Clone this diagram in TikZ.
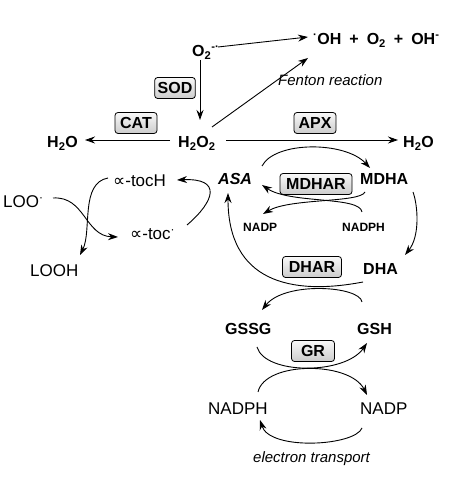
\documentclass[tikz,border=0pt]{standalone}
\usepackage{fontspec}
\setmainfont{Liberation Sans}
\newfontfamily\dejavu{DejaVu Sans}
\usetikzlibrary{arrows.meta}
\begin{document}
\begin{tikzpicture}[x=1pt,y=1pt,
  lbl/.style={anchor=base west, inner sep=0pt, font=\fontsize{16}{18}\selectfont\bfseries},
  reg/.style={anchor=base west, inner sep=0pt, font=\fontsize{17}{19}\selectfont},
  sml/.style={anchor=base west, inner sep=0pt, font=\fontsize{12}{14}\selectfont\bfseries},
  itl/.style={anchor=base west, inner sep=0pt, font=\fontsize{15}{17}\selectfont\itshape},
  enz/.style={draw, rounded corners=3pt, top color=gray!5, bottom color=gray!40, line width=0.8pt,
    font=\fontsize{16}{18}\selectfont\bfseries, minimum height=21pt, inner xsep=3pt, inner ysep=0pt},
  arr/.style={-{Stealth[length=10pt,width=7pt]}, line width=0.9pt},
]
\useasboundingbox (0,0) rectangle (454,486);
% species
\node[lbl] (o2) at (192,429) {O\textsubscript{2}\textsuperscript{-·}};
\node[lbl] (oh) at (313,441) {\textsuperscript{·}OH\hspace{8pt}+\hspace{8pt}O\textsubscript{2}\hspace{8pt}+\hspace{8pt}OH\textsuperscript{-}};
\node[itl] (fenton) at (278,400) {Fenton reaction};
\node[lbl] (h2oL) at (47,338) {H\textsubscript{2}O};
\node[lbl] (h2o2) at (178,338) {H\textsubscript{2}O\textsubscript{2}};
\node[lbl] (h2oR) at (403,338) {H\textsubscript{2}O};
\node[lbl, font=\fontsize{16}{18}\selectfont\bfseries\itshape] (asa) at (218,301) {ASA};
\node[lbl] (mdha) at (360,301) {MDHA};
\node[reg] (toch) at (113,299) {{\dejavu ∝}-tocH};
\node[reg] (loo) at (3,278) {LOO\textsuperscript{·}};
\node[reg] (toc) at (130,246) {{\dejavu ∝}-toc\textsuperscript{·}};
\node[reg] (looh) at (30,209) {LOOH};
\node[sml] (nadps) at (243,254) {NADP};
\node[sml] (nadphs) at (342,254) {NADPH};
\node[lbl] (dha) at (363,211) {DHA};
\node[lbl] (gssg) at (225,151) {GSSG};
\node[lbl] (gsh) at (357,151) {GSH};
\node[reg] (nadphb) at (208,71) {NADPH};
\node[reg] (nadpb) at (360,71) {NADP};
\node[itl] (et) at (253,23) {electron transport};
% enzymes
\node[enz, minimum width=40pt] (sod) at (175,398) {SOD};
\node[enz, minimum width=42pt] (cat) at (136,363) {CAT};
\node[enz, minimum width=42pt] (apx) at (315,363) {APX};
\node[enz, minimum width=72pt] (mdhar) at (316,302) {MDHAR};
\node[enz, minimum width=59pt] (dhar) at (312,219) {DHAR};
\node[enz, minimum width=43pt] (gr) at (313,135) {GR};
% straight arrows
\draw[arr] ([shift={(26,10)}]o2.base west) -- ([shift={(-5,8)}]oh.base west);
\draw[arr] ([shift={(34,21)}]h2o2.base west) -- ([shift={(-5,-13)}]oh.base west);
\draw[arr] ([shift={(8,-3)}]o2.base west) -- ([shift={(22,28)}]h2o2.base west);
\draw[arr] ([shift={(-8,8)}]h2o2.base west) -- ([shift={(38,8)}]h2oL.base west);
\draw[arr] ([shift={(48,8)}]h2o2.base west) -- ([shift={(-5,8)}]h2oR.base west);
% ascorbate cycle
\draw[arr] ([shift={(44,19)}]asa.base west) .. controls +(13,25) and +(-25,27) .. ([shift={(10,17)}]mdha.base west);
\draw[arr] ([shift={(5,-7)}]mdha.base west) .. controls +(-5,-11) and +(27,16) .. ([shift={(20,18)}]nadps.base west);
\draw[arr] ([shift={(20,20)}]nadphs.base west) .. controls +(-2,16) and +(28,-19) .. ([shift={(44,0)}]asa.base west);
\draw[arr] ([shift={(53,-7)}]mdha.base west) .. controls +(5,-14) and +(15,19) .. ([shift={(42,20)}]dha.base west);
\draw[arr] ([shift={(0,-7)}]dha.base west) .. controls +(-73,-14) and +(0,-88) .. ([shift={(10,-8)}]asa.base west);
% glutathione cycle
\draw[arr] ([shift={(5,33)}]gsh.base west) .. controls +(-2,16) and +(23,29) .. ([shift={(37,25)}]gssg.base west);
\draw[arr] ([shift={(32,-12)}]gssg.base west) .. controls +(8,-28) and +(-22,-32) .. ([shift={(10,-8)}]gsh.base west);
\draw[arr] ([shift={(50,23)}]nadphb.base west) .. controls +(7,31) and +(-17,34) .. ([shift={(7,20)}]nadpb.base west);
\draw[arr] ([shift={(2,-13)}]nadpb.base west) .. controls +(-7,-18) and +(10,-31) .. ([shift={(52,-5)}]nadphb.base west);
% tocopherol
\draw[arr] ([shift={(57,15)}]toc.base west) .. controls +(28,24) and +(45,2) .. ([shift={(64,7)}]toch.base west);
\draw[arr] ([shift={(-5,9)}]toch.base west) .. controls +(-28,-5) and +(12,24) .. ([shift={(50,22)}]looh.base west);
\draw[arr] ([shift={(50,10)}]loo.base west) .. controls +(32,2) and +(-33,1) .. ([shift={(-12,3)}]toc.base west);
\end{tikzpicture}
\end{document}
